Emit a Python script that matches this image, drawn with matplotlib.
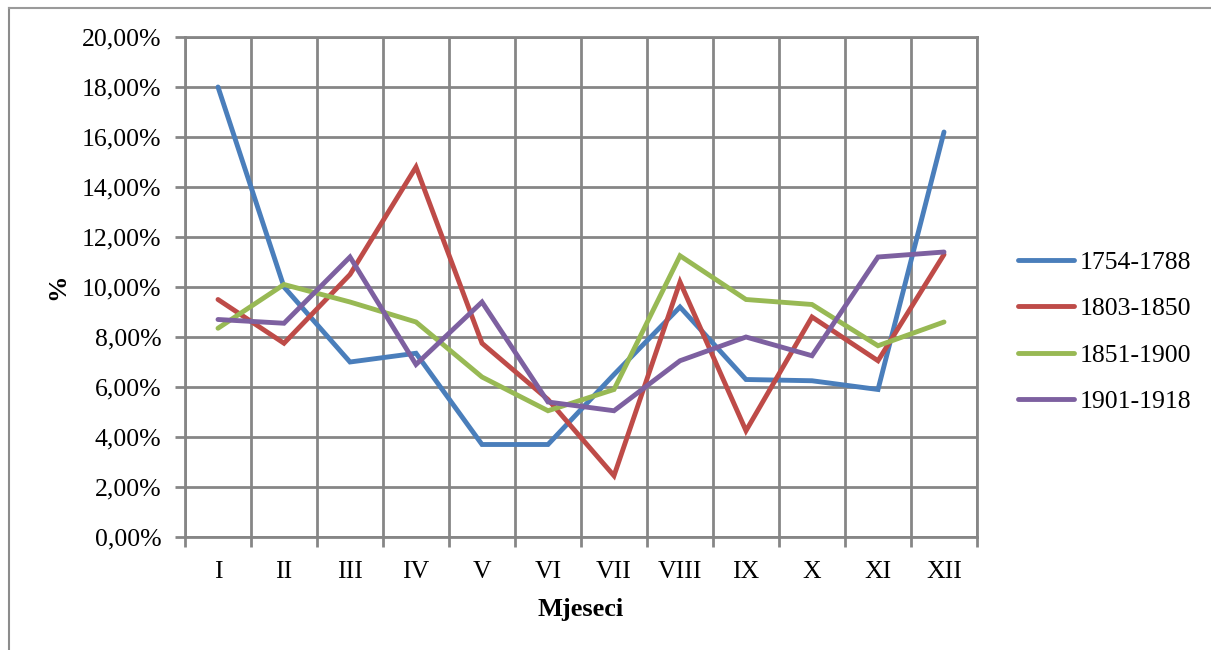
import matplotlib.pyplot as plt
from matplotlib.lines import Line2D

# Data (percent per month)
months = ["I", "II", "III", "IV", "V", "VI", "VII", "VIII", "IX", "X", "XI", "XII"]
p1754_1788 = [18.0, 10.0, 7.0, 7.35, 3.7, 3.7, 6.5, 9.2, 6.3, 6.25, 5.9, 16.2]
p1803_1850 = [9.5, 7.75, 10.5, 14.8, 7.75, 5.5, 2.45, 10.2, 4.25, 8.8, 7.05, 11.3]
p1851_1900 = [8.35, 10.1, 9.4, 8.6, 6.4, 5.05, 5.9, 11.25, 9.5, 9.3, 7.65, 8.6]
p1901_1918 = [8.7, 8.55, 11.2, 6.9, 9.4, 5.4, 5.05, 7.05, 8.0, 7.25, 11.2, 11.4]

labels = ["1754-1788", "1803-1850", "1851-1900", "1901-1918"]
colors = ["#4A7EBB", "#BE4B48", "#98B954", "#7D60A0"]

plt.rcParams["font.family"] = ["Liberation Serif", "DejaVu Serif"]
grid_col = "#868686"
fs = 18.5

fig = plt.figure(figsize=(12.11, 6.5), dpi=100)
ax = fig.add_axes([185 / 1211, 1 - 537 / 650, 792 / 1211, 500 / 650])

x = list(range(len(months)))
for vals, lab, col in zip([p1754_1788, p1803_1850, p1851_1900, p1901_1918], labels, colors):
    ax.plot(x, vals, color=col, lw=3.5, label=lab, solid_joinstyle="miter", solid_capstyle="round")

ax.set_xlim(-0.5, len(months) - 0.5)
ax.set_ylim(0, 20)

ax.set_xticks(x)
ax.set_xticklabels(months, fontsize=fs)
ax.set_xticks([i - 0.5 for i in range(len(months) + 1)], minor=True)
ax.tick_params(axis="x", which="major", length=0, pad=17)
ax.tick_params(axis="x", which="minor", length=7, width=2, color=grid_col, direction="out")

yt = list(range(0, 21, 2))
ax.set_yticks(yt)
ax.set_yticklabels([f"{v:.2f}".replace(".", ",") + "%" for v in yt], fontsize=fs)
ax.tick_params(axis="y", length=7, width=2, color=grid_col, pad=10)

ax.grid(True, axis="y", which="major", color=grid_col, lw=2)
ax.grid(True, axis="x", which="minor", color=grid_col, lw=2)
ax.set_axisbelow(True)
for s in ax.spines.values():
    s.set_color(grid_col)
    s.set_linewidth(2)

ax.set_xlabel("Mjeseci", fontsize=19, fontweight="bold", labelpad=11)
ax.set_ylabel("%", fontsize=19, fontweight="bold", labelpad=9)

leg = ax.legend(loc="center left", bbox_to_anchor=(1.022, 0.41), frameon=False,
                fontsize=fs, handlelength=2.2, handletextpad=0.2, labelspacing=0.92)

# outer chart frame (top and left edges visible)
fig.add_artist(Line2D([9 / 1211, 9 / 1211], [0, 1 - 8 / 650], transform=fig.transFigure,
                      color="#8C8C8C", lw=1.5))
fig.add_artist(Line2D([9 / 1211, 1], [1 - 8 / 650, 1 - 8 / 650], transform=fig.transFigure,
                      color="#9A9A9A", lw=1.5))

fig.savefig("out.png", dpi=100)
